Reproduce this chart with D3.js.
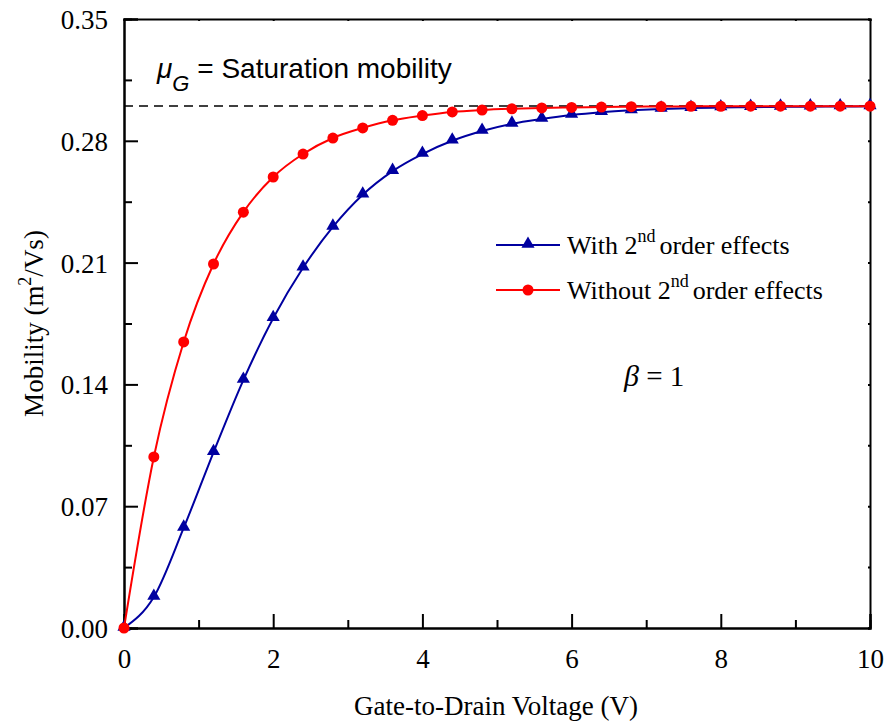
<!DOCTYPE html>
<html><head><meta charset="utf-8">
<script src="https://cdn.jsdelivr.net/npm/d3@7"></script>
<style>body{margin:0;background:#fff}svg{display:block}
.serif{font-family:"Liberation Serif","Tinos","Times New Roman",Times,"DejaVu Serif",serif}
.sans{font-family:"Liberation Sans",Arimo,Arial,Helvetica,sans-serif}
</style>
</head><body><div id="c"></div>
<script>
const xValues = [0,0.4,0.8,1.2,1.6,2.0,2.4,2.8,3.2,3.6,4.0,4.4,4.8,5.2,5.6,6.0,6.4,6.8,7.2,7.6,8.0,8.4,8.8,9.2,9.6,10.0];
const withSecondOrder = [0,0.0178,0.0575,0.101,0.1425,0.178,0.207,0.2305,0.249,0.2626,0.2724,0.280,0.2856,0.2897,0.2925,0.2948,0.2964,0.2975,0.2983,0.2988,0.2991,0.2993,0.2995,0.2996,0.2997,0.2998];
const withoutSecondOrder = [0,0.0983,0.1644,0.2092,0.239,0.2592,0.2724,0.2816,0.2874,0.2918,0.2945,0.2966,0.2977,0.2984,0.2989,0.2992,0.2994,0.2996,0.2997,0.2998,0.2998,0.2999,0.2999,0.2999,0.2999,0.2999];
const saturation = 0.3;
const xTicks = [0,2,4,6,8,10];
const xMinor = [1,3,5,7,9];
const yTicks = [0,0.07,0.14,0.21,0.28,0.35];
const yMinor = [0.035,0.105,0.175,0.245,0.315];

const W=888,H=728, L=124, R=870, T=19, B=628;
const FS=27;
const svg=d3.select("#c").append("svg").attr("width",W).attr("height",H);
const x=d3.scaleLinear().domain([0,10]).range([L,R]);
const y=d3.scaleLinear().domain([0,0.35]).range([B,T]);

// dashed saturation line
svg.append("line").attr("x1",x(0)).attr("x2",x(10)).attr("y1",y(saturation)).attr("y2",y(saturation))
  .attr("stroke","#000").attr("stroke-width",1.5).attr("stroke-dasharray","9,6");

// axes
const gx=svg.append("g").attr("transform",`translate(0,${B})`)
  .call(d3.axisBottom(x).tickValues(xTicks).tickSize(-14).tickPadding(21).tickFormat(d3.format("d")));
const gxm=svg.append("g").attr("transform",`translate(0,${B})`)
  .call(d3.axisBottom(x).tickValues(xMinor).tickSize(-8).tickFormat(""));
const gy=svg.append("g").attr("transform",`translate(${L},0)`)
  .call(d3.axisLeft(y).tickValues(yTicks).tickSize(-14).tickPadding(16).tickFormat(d3.format(".2f")));
const gym=svg.append("g").attr("transform",`translate(${L},0)`)
  .call(d3.axisLeft(y).tickValues(yMinor).tickSize(-8).tickFormat(""));
const gt=svg.append("g").attr("transform",`translate(0,${T})`)
  .call(d3.axisTop(x).tickValues(xTicks.concat(xMinor)).tickSize(-2).tickFormat(""));
const gr=svg.append("g").attr("transform",`translate(${R},0)`)
  .call(d3.axisRight(y).tickValues(yTicks.concat(yMinor)).tickSize(-2).tickFormat(""));
[gx,gxm,gy,gym,gt,gr].forEach(g=>{
  g.attr("font-family",null).attr("font-size",null);
  g.selectAll(".domain").attr("stroke","#000").attr("stroke-width",2);
  g.selectAll(".tick line").attr("stroke","#000").attr("stroke-width",2);
  g.selectAll("text").attr("class","serif").style("font-size",FS+"px").attr("fill","#000");
});
gy.selectAll("text").attr("dy","0.35em");

// lines
const line=d3.line().x((d,i)=>x(xValues[i])).y(d=>y(d)).curve(d3.curveMonotoneX);
svg.append("path").datum(withSecondOrder).attr("d",line).attr("fill","none").attr("stroke","#0000a0").attr("stroke-width",2);
const tri=d3.symbol().type(d3.symbolTriangle).size(75);
svg.append("g").selectAll("path").data(withSecondOrder).join("path")
  .attr("d",tri).attr("transform",(d,i)=>`translate(${x(xValues[i])},${y(d)-1})`).attr("fill","#0000a0");
svg.append("path").datum(withoutSecondOrder).attr("d",line).attr("fill","none").attr("stroke","#ff0000").attr("stroke-width",2);
svg.append("g").selectAll("circle").data(withoutSecondOrder).join("circle")
  .attr("cx",(d,i)=>x(xValues[i])).attr("cy",d=>y(d)).attr("r",5.5).attr("fill","#ff0000");

// legend
const leg=[{label:"With ",c:"#0000a0",t:"tri"},{label:"Without ",c:"#ff0000",t:"circ"}];
leg.forEach((s,i)=>{
  const ly=245+i*45;
  svg.append("line").attr("x1",496).attr("x2",560).attr("y1",ly).attr("y2",ly).attr("stroke",s.c).attr("stroke-width",2);
  if(s.t==="tri") svg.append("path").attr("d",tri).attr("transform",`translate(528,${ly-1})`).attr("fill",s.c);
  else svg.append("circle").attr("cx",528).attr("cy",ly).attr("r",5.5).attr("fill",s.c);
  const t=svg.append("text").attr("class","serif").attr("x",567).attr("y",ly+9).style("font-size","26px").attr("fill","#000");
  t.append("tspan").text(s.label+"2");
  t.append("tspan").attr("dy",-12).style("font-size","18px").text("nd");
  t.append("tspan").attr("dy",12).attr("dx",4).text("order effects");
});

// annotation mu_G
const mu=svg.append("text").attr("class","sans").attr("x",157).attr("y",78).style("font-size","28px").attr("fill","#000");
mu.append("tspan").style("font-style","italic").text("μ");
mu.append("tspan").style("font-style","italic").style("font-size","22px").attr("dy",13).text("G");
mu.append("tspan").attr("dy",-13).text(" = Saturation mobility");

// beta
const bt=svg.append("text").attr("class","serif").attr("x",624).attr("y",386).style("font-size","30px").attr("fill","#000");
bt.append("tspan").style("font-style","italic").text("β");
bt.append("tspan").style("font-size","29px").text(" = 1");

// axis titles
svg.append("text").attr("class","serif").attr("x",496).attr("y",715).attr("text-anchor","middle")
  .style("font-size",FS+"px").text("Gate-to-Drain Voltage (V)");
const yt=svg.append("text").attr("class","serif").attr("transform",`translate(43,${(T+B)/2}) rotate(-90)`).attr("text-anchor","middle")
  .style("font-size",FS+"px");
yt.append("tspan").text("Mobility (m");
yt.append("tspan").attr("dy",-12).style("font-size","18px").text("2");
yt.append("tspan").attr("dy",12).text("/Vs)");
</script></body></html>
